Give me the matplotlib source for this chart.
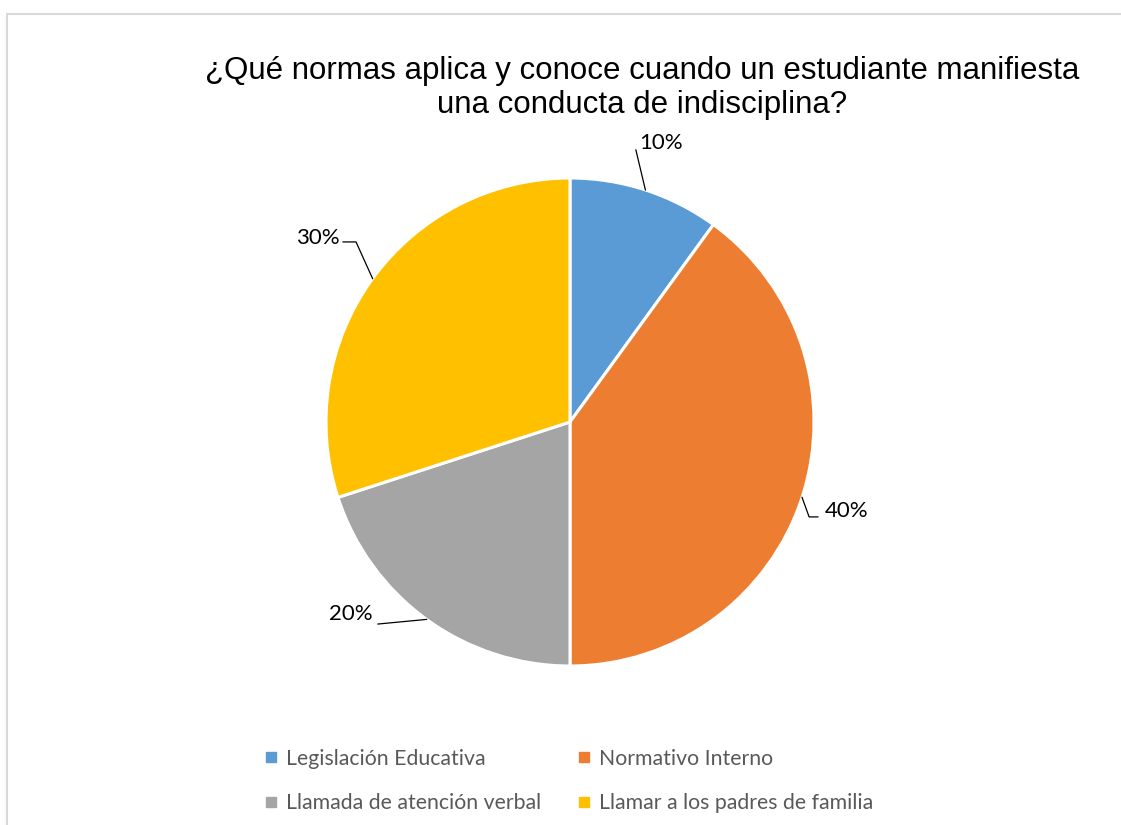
import matplotlib
matplotlib.use("Agg")
import matplotlib.pyplot as plt
from matplotlib.lines import Line2D
from matplotlib.patches import Rectangle
import numpy as np

# ---- data ----
categories = ["Legislación Educativa", "Normativo Interno",
              "Llamada de atención verbal", "Llamar a los padres de familia"]
values = [10, 40, 20, 30]
colors = ["#5B9BD5", "#ED7D31", "#A5A5A5", "#FFC000"]
title = "¿Qué normas aplica y conoce cuando un estudiante manifiesta\nuna conducta de indisciplina?"

W, H = 1121, 825
fig = plt.figure(figsize=(W / 100, H / 100), dpi=100)

# chart border
fig.patches.append(Rectangle((7 / W, -0.05), 1.2, 1 - 14 / H + 0.05, transform=fig.transFigure,
                             fill=False, edgecolor="#d9d9d9", linewidth=1.5))

cx, cy, R = 570, 422, 244
ax = fig.add_axes([(cx - R) / W, (H - cy - R) / H, 2 * R / W, 2 * R / H])

wedges, _ = ax.pie(values, colors=colors, startangle=90, counterclock=False,
                   radius=1, wedgeprops=dict(edgecolor="white", linewidth=2.2))
ax.set_xlim(-1, 1)
ax.set_ylim(-1, 1)
ax.axis("off")

# label layout (text position and leader bend points, in axes-data units)
label_layout = [
    dict(text=(0.373, 1.143), path=[(0.270, 1.115)], ha="center"),
    dict(text=(1.045, -0.365), path=[(0.980, -0.389), (1.016, -0.389)], ha="left"),
    dict(text=(-0.807, -0.787), path=[(-0.787, -0.828)], ha="right"),
    dict(text=(-0.943, 0.754), path=[(-0.877, 0.738), (-0.930, 0.738)], ha="right"),
]
total = sum(values)
start = 90.0
for v, lay in zip(values, label_layout):
    mid = np.deg2rad(start - 360 * v / total / 2)
    start -= 360 * v / total
    ex, ey = np.cos(mid), np.sin(mid)
    pts = [(ex, ey)] + lay["path"]
    ax.add_line(Line2D([p[0] for p in pts], [p[1] for p in pts], color="black",
                       linewidth=0.9, clip_on=False))
    ax.text(lay["text"][0], lay["text"][1], f"{v}%", ha=lay["ha"], va="center",
            fontsize=16, fontfamily="Lato", color="black", clip_on=False)

fig.text(642 / W, 1 - 88 / H, title, ha="center", va="center", fontsize=22.5,
         fontfamily="Liberation Sans", color="#000000", linespacing=1.2)

handles = [Line2D([], [], marker="s", linestyle="none", markersize=6.5,
                  markerfacecolor=c, markeredgecolor=c) for c in colors]
order = [0, 2, 1, 3]  # row-wise legend order
leg = fig.legend([handles[i] for i in order], [categories[i] for i in order],
                 loc="center", bbox_to_anchor=(569 / W, 1 - 781 / H),
                 ncol=2, frameon=False, handlelength=0.6, handletextpad=0.4,
                 columnspacing=1.74, labelspacing=1.15,
                 prop=dict(family="Lato", size=15.3))
for t in leg.get_texts():
    t.set_color("#595959")

fig.savefig("out.png", dpi=100, facecolor="white")
